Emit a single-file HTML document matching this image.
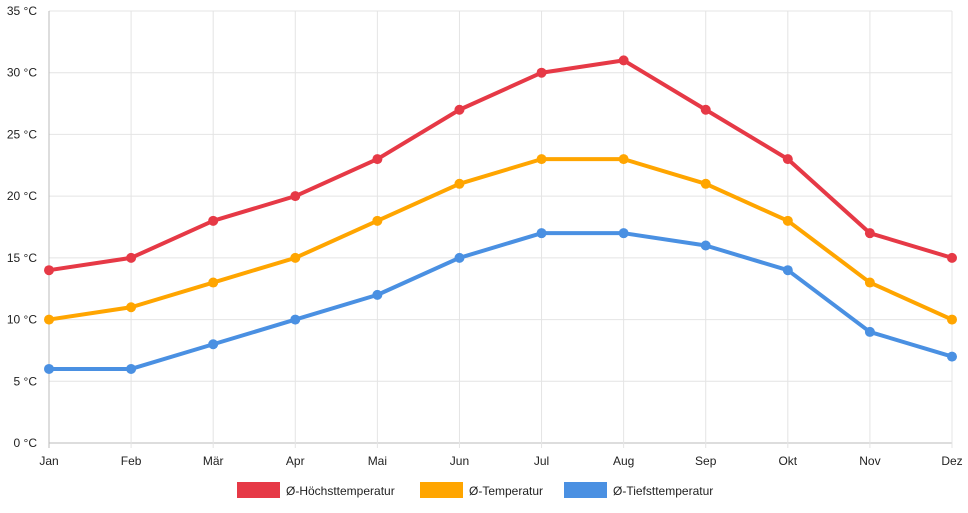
<!DOCTYPE html>
<html><head><meta charset="utf-8"><style>
body{margin:0;background:#fff;font-family:"Liberation Sans",Arial,sans-serif;}
svg text{font-family:"Liberation Sans",Arial,sans-serif;font-size:12px;fill:#222;}
</style></head><body>
<svg id="chart" width="968" height="508"></svg>
<script>
const months=["Jan","Feb","Mär","Apr","Mai","Jun","Jul","Aug","Sep","Okt","Nov","Dez"];
const highTemps=[14,15,18,20,23,27,30,31,27,23,17,15];
const avgTemps=[10,11,13,15,18,21,23,23,21,18,13,10];
const lowTemps=[6,6,8,10,12,15,17,17,16,14,9,7];
const yTicks=[0,5,10,15,20,25,30,35];
const seriesNames=["Ø-Höchsttemperatur","Ø-Temperatur","Ø-Tiefsttemperatur"];

const svg=document.getElementById('chart');
const NS="http://www.w3.org/2000/svg";
const x0=49,x1=952,yTop=11,yBot=443,yMax=35;
const xs=i=>x0+i*(x1-x0)/(months.length-1);
const ys=v=>yBot-v/yMax*(yBot-yTop);
function mk(t,a,p){const e=document.createElementNS(NS,t);for(const k in a)e.setAttribute(k,a[k]);(p||svg).appendChild(e);return e;}

const grid=mk('g',{});


yTicks.forEach(v=>{
  const l=mk('line',{x1:x0,x2:x1,y1:ys(v),y2:ys(v),stroke:v===0?'#bbb':'#e4e4e4','stroke-width':1},grid);
  
  
  const t=mk('text',{x:x0-12,y:ys(v)+4,'text-anchor':'end'});
  t.textContent=v+' °C';
  
  
});
months.forEach((m,i)=>{
  const l=mk('line',{x1:xs(i),x2:xs(i),y1:yTop,y2:yBot+5,stroke:i===0?'#bbb':'#e4e4e4','stroke-width':1},grid);
  
  
  const t=mk('text',{x:xs(i),y:465,'text-anchor':'middle'});
  t.textContent=m;
  
  
});
const colors=['#e63946','#ffa500','#4a90e2'];
[highTemps,avgTemps,lowTemps].forEach((arr,s)=>{
  const g=mk('g',{});
  
  
  const p=mk('polyline',{points:arr.map((v,i)=>xs(i)+','+ys(v)).join(' '),fill:'none',stroke:colors[s],'stroke-width':4,'stroke-linejoin':'round'},g);
  
  
  arr.forEach((v,i)=>{
    const c=mk('circle',{cx:xs(i),cy:ys(v),r:5,fill:colors[s]},g);
    
    
  });
});
const legX=[237,420,564];
seriesNames.forEach((n,s)=>{
  const g=mk('g',{});
  
  
  mk('rect',{x:legX[s],y:482,width:43,height:16,fill:colors[s]},g);
  const t=mk('text',{x:legX[s]+49,y:495},g);
  t.textContent=n;
});
</script>
</body></html>
